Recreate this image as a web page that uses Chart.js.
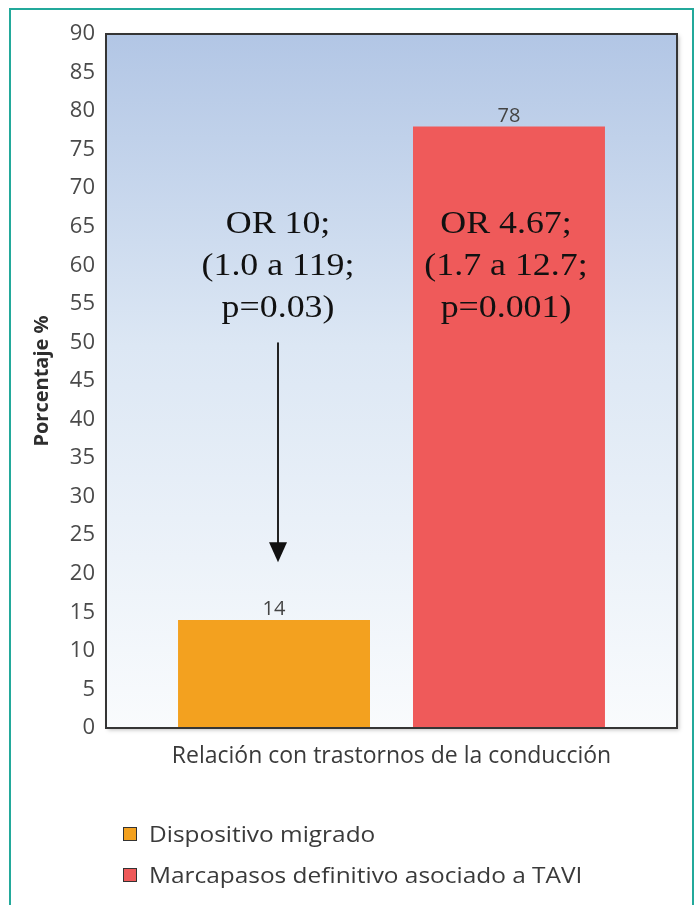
<!DOCTYPE html>
<html>
<head>
<meta charset="utf-8">
<script src="https://cdn.jsdelivr.net/npm/chart.js@4.4.1/dist/chart.umd.min.js"></script>
<style>
  body { margin: 0; background: #fff; }
  #wrap { position: relative; width: 700px; height: 905px; overflow: hidden; }
  #frame { position: absolute; left: 9px; top: 8px; width: 685px; height: 920px; border: 2px solid #23a99b; box-sizing: border-box; }
  #myChart { position: absolute; left: 0; top: 0; }
  #legend { position: absolute; left: 123px; top: 818px; font-family: "Open Sans", sans-serif; font-size: 22px; color: #3a3a3a; }
  #legend div { height: 41px; line-height: 30px; white-space: nowrap; }
  #legend span.box { display: inline-block; width: 12px; height: 12px; border: 1.5px solid #333; margin-right: 12px; vertical-align: 1px; }
  #legend span.txt { display: inline-block; transform: scaleX(1.11); transform-origin: left center; }
</style>
</head>
<body>
<div id="wrap">
  <div id="frame"></div>
  <canvas id="myChart" width="700" height="905"></canvas>
  <div id="legend"></div>
</div>
<script>
  // chart data
  const categories = ["Relación con trastornos de la conducción"];
  const seriesNames = ["Dispositivo migrado", "Marcapasos definitivo asociado a TAVI"];
  const seriesValues = [[14], [78]];
  const seriesColors = ["#f3a11f", "#ef5a5a"];
  const yTicks = [0, 5, 10, 15, 20, 25, 30, 35, 40, 45, 50, 55, 60, 65, 70, 75, 80, 85, 90];

  // odds ratio notes, one per series (text lines, y value of first baseline)
  const noteLines = [
    ["OR 10;", "(1.0 a 119;", "p=0.03)"],
    ["OR 4.67;", "(1.7 a 12.7;", "p=0.001)"]
  ];
  const noteTopValue = 64.2;
  const noteLineStep = 5.45;
  // arrow from note down to the first bar
  const arrowFrom = 50;
  const arrowTo = 21.5;

  const bgPlugin = {
    id: "plotBackground",
    beforeDatasetsDraw(chart) {
      const { ctx, chartArea: a } = chart;
      ctx.save();
      ctx.shadowColor = "rgba(0,0,0,0.25)";
      ctx.shadowBlur = 4;
      ctx.shadowOffsetX = 2;
      ctx.shadowOffsetY = 2;
      const g = ctx.createLinearGradient(0, a.top, 0, a.bottom);
      g.addColorStop(0, "#b2c6e5");
      g.addColorStop(0.45, "#dce7f4");
      g.addColorStop(1, "#f9fbfd");
      ctx.fillStyle = g;
      ctx.fillRect(a.left, a.top, a.right - a.left, a.bottom - a.top);
      ctx.restore();
    },
    afterDatasetsDraw(chart) {
      const { ctx, chartArea: a } = chart;
      ctx.save();
      ctx.strokeStyle = "#353535";
      ctx.lineWidth = 2;
      ctx.strokeRect(a.left, a.top, a.right - a.left, a.bottom - a.top);

      // value labels above bars
      ctx.fillStyle = "#444";
      ctx.font = "20px 'Open Sans'";
      ctx.textAlign = "center";
      ctx.textBaseline = "alphabetic";
      chart.data.datasets.forEach((ds, i) => {
        chart.getDatasetMeta(i).data.forEach((bar, j) => {
          ctx.fillText(ds.data[j], bar.x, bar.y - 5);
        });
      });

      // OR notes
      const y = chart.scales.y;
      ctx.fillStyle = "#111";
      ctx.font = "32px 'Liberation Serif'";
      noteLines.forEach((lines, i) => {
        const bar = chart.getDatasetMeta(i).data[0];
        lines.forEach((t, k) => {
          ctx.save();
          ctx.translate(bar.x + (i === 0 ? 4 : -3), y.getPixelForValue(noteTopValue - k * noteLineStep));
          ctx.scale(1.12, 1);
          ctx.fillText(t, 0, 0);
          ctx.restore();
        });
      });

      // arrow
      const ax = chart.getDatasetMeta(0).data[0].x + 4;
      const y1 = y.getPixelForValue(arrowFrom);
      const y2 = y.getPixelForValue(arrowTo);
      ctx.strokeStyle = "#222";
      ctx.lineWidth = 2;
      ctx.beginPath();
      ctx.moveTo(ax, y1);
      ctx.lineTo(ax, y2 - 18);
      ctx.stroke();
      ctx.fillStyle = "#111";
      ctx.beginPath();
      ctx.moveTo(ax - 9, y2 - 20);
      ctx.lineTo(ax + 9, y2 - 20);
      ctx.lineTo(ax, y2);
      ctx.closePath();
      ctx.fill();
      ctx.restore();
    }
  };

  const config = {
    type: "bar",
    data: {
      labels: categories,
      datasets: seriesNames.map((name, i) => ({
        label: name,
        data: seriesValues[i],
        backgroundColor: seriesColors[i],
        borderWidth: 0,
        categoryPercentage: 0.823,
        barPercentage: 0.817
      }))
    },
    options: {
      responsive: false,
      animation: false,
      layout: { padding: { left: 0, right: 23, top: 34, bottom: 0 } },
      plugins: {
        legend: { display: false },
        tooltip: { enabled: false }
      },
      scales: {
        x: {
          grid: { display: false, drawTicks: false },
          border: { display: false },
          ticks: { color: "#3a3a3a", font: { family: "Open Sans", size: 23 }, padding: 15 },
          afterFit(scale) { scale.height = 177; }
        },
        y: {
          min: 0,
          max: 90,
          afterBuildTicks(scale) { scale.ticks = yTicks.map(v => ({ value: v })); },
          grid: { display: false, drawTicks: false },
          border: { display: false },
          ticks: { color: "#4a4a4a", font: { family: "Open Sans", size: 22 }, padding: 11 },
          title: {
            display: true,
            text: "Porcentaje %",
            color: "#2e2e2e",
            font: { family: "Open Sans", size: 20, weight: "bold" },
            padding: { top: 30, bottom: 0 }
          },
          afterFit(scale) { scale.width = 106; }
        }
      }
    },
    plugins: [bgPlugin]
  };

  const myChart = new Chart(document.getElementById("myChart"), config);

  // legend
  const legend = document.getElementById("legend");
  seriesNames.forEach((name, i) => {
    const row = document.createElement("div");
    const box = document.createElement("span");
    box.className = "box";
    box.style.background = seriesColors[i];
    const txt = document.createElement("span");
    txt.className = "txt";
    txt.textContent = name;
    row.appendChild(box);
    row.appendChild(txt);
    legend.appendChild(row);
  });
</script>
</body>
</html>
